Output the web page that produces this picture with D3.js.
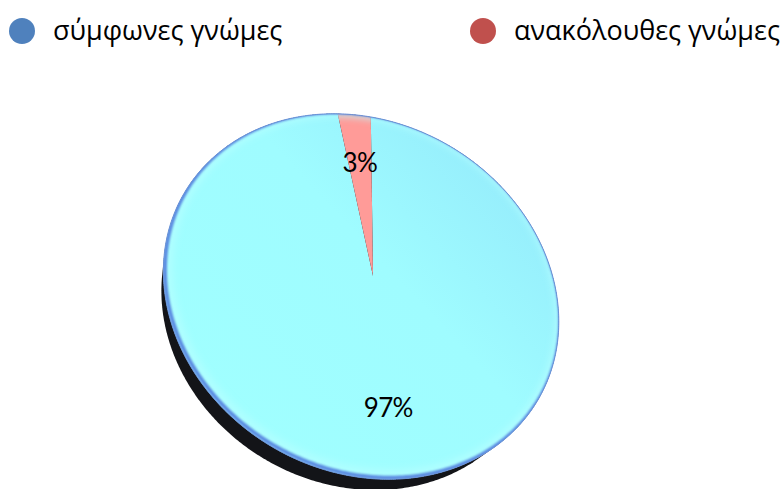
<!DOCTYPE html>
<html>
<head>
<meta charset="utf-8">
<script src="https://cdn.jsdelivr.net/npm/d3@7"></script>
<style>
  html, body { margin: 0; padding: 0; background: #fff; }
</style>
</head>
<body>
<div id="chart"></div>
<script>
// chart data
const categories = ["σύμφωνες γνώμες", "ανακόλουθες γνώμες"];
const values = [97, 3];
const labels = ["97%", "3%"];
const legendColors = ["#4f81bd", "#c0504d"];
const sliceColors = ["#9ffcff", "#ff9b98"];

const width = 784, height = 489;

const svg = d3.select("#chart").append("svg")
    .attr("width", width)
    .attr("height", height);

// 3D view of the pie disc (tilted, with perspective)
const R = 203,
    tilt = 29.5 * Math.PI / 180,
    yaw = 14 * Math.PI / 180,
    roll = 7 * Math.PI / 180,
    dist = 800,
    depth = 40;
const cx = 373, cy = 276;

function project(angle, r, w) {
    let u = r * Math.sin(angle), v = -r * Math.cos(angle);
    let Y = v * Math.cos(tilt) - w * Math.sin(tilt);
    let Z = v * Math.sin(tilt) + w * Math.cos(tilt);
    let X2 = u * Math.cos(yaw) + Z * Math.sin(yaw);
    let Z2 = Z * Math.cos(yaw) - u * Math.sin(yaw);
    let s = dist / (dist - Z2);
    let x = X2 * s, y = Y * s;
    return [cx + x * Math.cos(roll) - y * Math.sin(roll),
            cy + x * Math.sin(roll) + y * Math.cos(roll)];
}

function rim(a0, a1, w) {
    let n = Math.max(2, Math.ceil((a1 - a0) / 0.01));
    return d3.range(n + 1).map(i => project(a0 + (a1 - a0) * i / n, R, w));
}

const pie = d3.pie().sort(null).value(d => d);
const arcs = pie(values);
const line = d3.line().curve(d3.curveLinearClosed);

const defs = svg.append("defs");

const topGrad = defs.append("linearGradient")
    .attr("id", "topGrad")
    .attr("gradientUnits", "userSpaceOnUse")
    .attr("x1", 220).attr("y1", 420)
    .attr("x2", 520).attr("y2", 140);
topGrad.append("stop").attr("offset", "0").attr("stop-color", "#a0ffff");
topGrad.append("stop").attr("offset", "0.55").attr("stop-color", "#9ffcff");
topGrad.append("stop").attr("offset", "1").attr("stop-color", "#94eafb");

defs.append("filter").attr("id", "blur")
    .attr("x", "-10%").attr("y", "-10%").attr("width", "120%").attr("height", "120%")
    .append("feGaussianBlur").attr("stdDeviation", 1.3);

defs.append("filter").attr("id", "blurWide")
    .attr("x", "-10%").attr("y", "-10%").attr("width", "120%").attr("height", "120%")
    .append("feGaussianBlur").attr("stdDeviation", 3);

const topRim = rim(0, 2 * Math.PI, 0);

defs.append("clipPath").attr("id", "discClip")
    .append("path")
    .attr("d", line(topRim));

// side of the disc
const sidePts = topRim.concat(rim(0, 2 * Math.PI, -depth));
svg.append("path")
    .attr("d", line(d3.polygonHull(sidePts)))
    .attr("fill", "#131418");

// top face slices
svg.append("g").selectAll("path")
    .data(arcs)
    .join("path")
    .attr("d", d => line([project(0, 0, 0)].concat(rim(d.startAngle, d.endAngle, 0))))
    .attr("fill", (d, i) => i === 0 ? "url(#topGrad)" : sliceColors[i]);

// bevel along the rim: light band, then darker blue edge
const bevel = svg.append("g").attr("clip-path", "url(#discClip)");

bevel.append("path")
    .attr("d", line(topRim))
    .attr("transform", "translate(3,-3)")
    .attr("fill", "none")
    .attr("stroke", "#b8ffff")
    .attr("stroke-width", 14)
    .attr("stroke-opacity", 0.6)
    .attr("filter", "url(#blurWide)");

bevel.append("path")
    .attr("d", line(topRim))
    .attr("transform", "translate(1.5,-1.5)")
    .attr("fill", "none")
    .attr("stroke", "#4a74dc")
    .attr("stroke-width", 4)
    .attr("stroke-opacity", 0.85)
    .attr("filter", "url(#blur)");

svg.append("path")
    .attr("d", line(topRim))
    .attr("fill", "none")
    .attr("stroke", "#6a90d8")
    .attr("stroke-width", 1);

// data labels
svg.append("g").selectAll("text")
    .data(arcs)
    .join("text")
    .attr("x", d => project((d.startAngle + d.endAngle) / 2, R * 0.675, 0)[0])
    .attr("y", d => project((d.startAngle + d.endAngle) / 2, R * 0.675, 0)[1])
    .attr("dy", "0.35em")
    .attr("text-anchor", "middle")
    .attr("font-family", "Lato, sans-serif")
    .attr("font-size", 26)
    .attr("letter-spacing", -0.6)
    .attr("fill", "#000")
    .text((d, i) => labels[i]);

// legend
const legendX = [9, 470];
const legend = svg.append("g").selectAll("g")
    .data(categories)
    .join("g")
    .attr("transform", (d, i) => "translate(" + legendX[i] + ",31)");

legend.append("circle")
    .attr("cx", 13)
    .attr("r", 13)
    .attr("fill", (d, i) => legendColors[i]);

legend.append("text")
    .attr("x", 44)
    .attr("y", 9)
    .attr("font-family", "'Open Sans', sans-serif")
    .attr("font-size", 27)
    .attr("fill", "#000")
    .text(d => d);
</script>
</body>
</html>
